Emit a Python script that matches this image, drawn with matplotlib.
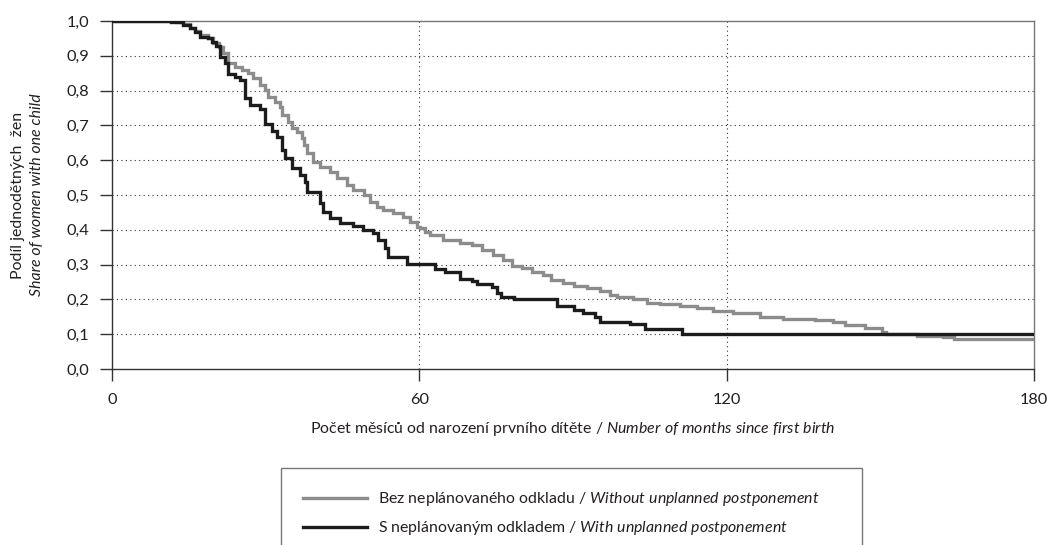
import matplotlib
matplotlib.use("Agg")
import matplotlib.pyplot as plt
from matplotlib.ticker import FuncFormatter

# ---- data ----
months_without = [0, 12.5, 13.9, 15.2, 16.2, 17.2, 18.8, 19.8, 20.8, 21.7, 22.7, 24.0, 25.3, 26.6,
                  27.6, 28.9, 29.9, 30.5, 31.8, 32.8, 33.1, 34.4, 35.1, 36.1, 37.0, 37.4, 38.0, 39.3,
                  40.6, 42.6, 43.9, 45.8, 47.1, 49.1, 50.4, 51.7, 53.0, 54.9, 56.9, 58.2, 59.5, 60.1,
                  61.1, 62.1, 64.7, 67.9, 70.2, 72.2, 74.4, 76.4, 78.0, 80.0, 81.9, 84.2, 85.8, 88.1,
                  90.1, 92.7, 95.3, 97.2, 98.5, 101.8, 104.4, 107.0, 110.9, 114.2, 117.4, 121.3,
                  126.5, 131.0, 137.3, 140.8, 143.1, 147.0, 150.3, 151.2, 157.1, 162.3, 164.3, 180]
share_without = [1.0, 0.997, 0.990, 0.981, 0.971, 0.960, 0.952, 0.936, 0.926, 0.907, 0.878, 0.869,
                 0.859, 0.850, 0.835, 0.816, 0.802, 0.782, 0.768, 0.754, 0.730, 0.711, 0.692, 0.682,
                 0.663, 0.644, 0.620, 0.596, 0.581, 0.567, 0.548, 0.529, 0.514, 0.500, 0.481, 0.466,
                 0.457, 0.447, 0.438, 0.423, 0.409, 0.404, 0.395, 0.385, 0.371, 0.363, 0.356, 0.342,
                 0.328, 0.313, 0.296, 0.289, 0.280, 0.270, 0.256, 0.246, 0.238, 0.232, 0.225, 0.213,
                 0.208, 0.201, 0.190, 0.186, 0.181, 0.174, 0.167, 0.162, 0.150, 0.143, 0.141, 0.136,
                 0.126, 0.117, 0.107, 0.100, 0.095, 0.091, 0.085, 0.085]

months_with = [0, 11.6, 13.9, 15.2, 16.2, 17.2, 18.8, 19.5, 20.4, 21.1, 22.1, 22.7, 24.0, 25.0,
               26.0, 26.9, 28.9, 29.9, 31.2, 32.2, 33.2, 33.8, 35.1, 36.7, 37.7, 38.0, 40.6, 41.2,
               42.6, 44.5, 47.0, 49.0, 51.0, 52.0, 53.3, 53.9, 57.6, 63.0, 65.0, 67.9, 70.2, 71.2,
               74.1, 75.1, 76.0, 78.4, 86.8, 90.1, 92.0, 94.3, 95.3, 101.1, 104.1, 111.2, 180]
share_with = [1.0, 0.997, 0.988, 0.979, 0.969, 0.955, 0.950, 0.939, 0.929, 0.897, 0.878, 0.848,
              0.840, 0.830, 0.778, 0.759, 0.748, 0.705, 0.684, 0.667, 0.629, 0.606, 0.578, 0.557,
              0.537, 0.508, 0.477, 0.451, 0.434, 0.420, 0.411, 0.399, 0.390, 0.371, 0.347, 0.322,
              0.302, 0.286, 0.279, 0.260, 0.253, 0.243, 0.235, 0.217, 0.208, 0.200, 0.181, 0.170,
              0.160, 0.150, 0.136, 0.128, 0.115, 0.100, 0.100]

x_ticks = [0, 60, 120, 180]
y_ticks = [0.0, 0.1, 0.2, 0.3, 0.4, 0.5, 0.6, 0.7, 0.8, 0.9, 1.0]

label_without = r"Bez neplánovaného odkladu / $\it{Without\ unplanned\ postponement}$"
label_with = r"S neplánovaným odkladem / $\it{With\ unplanned\ postponement}$"
xlabel = r"Počet měsíců od narození prvního dítěte / $\it{Number\ of\ months\ since\ first\ birth}$"
ylabel1 = "Podíl jednodětných  žen"
ylabel2 = "Share of women with one child"

# ---- style ----
FONT = "Lato"
plt.rcParams["font.family"] = [FONT, "DejaVu Sans"]
plt.rcParams["mathtext.fontset"] = "custom"
plt.rcParams["mathtext.rm"] = FONT
plt.rcParams["mathtext.it"] = FONT + ":italic"
FS = 11.4
GRAY = "#8c8c8c"
BLACK = "#1c1c1c"
TXT = "#231f20"

W, H = 1047, 545
fig = plt.figure(figsize=(W / 100, H / 100), dpi=100)
ax = fig.add_axes([112 / W, 1 - 369 / H, 922 / W, 348 / H])

ax.step(months_without, share_without, where="post", color=GRAY, lw=2.4,
        label=label_without, zorder=3, solid_joinstyle="miter")
ax.step(months_with, share_with, where="post", color=BLACK, lw=2.4,
        label=label_with, zorder=4, solid_joinstyle="miter")

ax.set_xlim(0, 180)
ax.set_ylim(0, 1.0)
ax.set_xticks(x_ticks)
ax.set_yticks(y_ticks)
ax.yaxis.set_major_formatter(FuncFormatter(lambda v, p: f"{v:.1f}".replace(".", ",")))
ax.tick_params(axis="both", direction="out", length=8.5, width=1.0, color="#333333",
               labelsize=FS + 0.4, labelcolor=TXT)
ax.tick_params(axis="y", pad=8)
ax.tick_params(axis="x", pad=9)

for yv in y_ticks[1:-1]:
    ax.axhline(yv, color="#333333", lw=0.8, ls=(0, (1, 3)), zorder=1)
for xv in x_ticks[1:-1]:
    ax.axvline(xv, color="#333333", lw=0.8, ls=(0, (1, 3)), zorder=1)

for side in ["left", "bottom"]:
    ax.spines[side].set_color("#333333")
    ax.spines[side].set_linewidth(1.0)
for side in ["top", "right"]:
    ax.spines[side].set_color("#777777")
    ax.spines[side].set_linewidth(1.0)

ax.set_xlabel(xlabel, fontsize=FS, color=TXT, labelpad=9)

yc = 1 - 195 / H
fig.text(18 / W, yc, ylabel1, rotation=90, ha="center", va="center", fontsize=FS, color=TXT)
fig.text(37 / W, yc, ylabel2, rotation=90, ha="center", va="center", fontsize=FS, color=TXT,
         style="italic")

leg = fig.legend(loc="upper left", bbox_to_anchor=(281 / W, 1 - 468 / H, 581 / W, 0),
                 mode="expand", borderaxespad=0, frameon=True, fancybox=False,
                 fontsize=FS, borderpad=1.4, labelspacing=0.7, handlelength=4.0,
                 handletextpad=0.7)
leg.get_frame().set_edgecolor("#555555")
leg.get_frame().set_linewidth(1.0)
for t in leg.get_texts():
    t.set_color(TXT)

fig.savefig("out.png", dpi=100)
